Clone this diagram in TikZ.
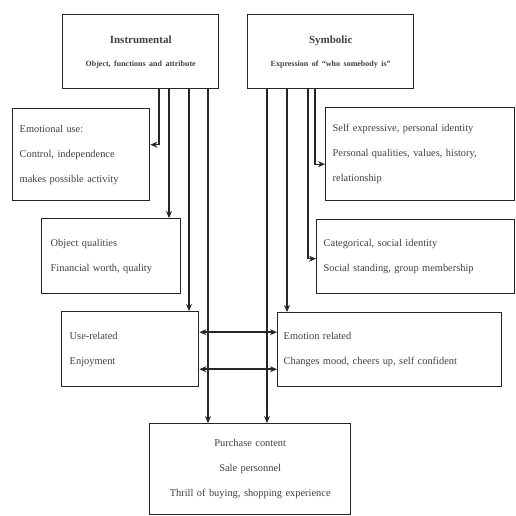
\documentclass[tikz,border=0pt]{standalone}
\usepackage{fontspec}
\setmainfont{Liberation Serif}
\usetikzlibrary{arrows.meta,calc}
\begin{document}
\begin{tikzpicture}[x=1pt,y=-1pt,
  box/.style={draw=black!85,line width=1.4pt,anchor=north west,inner xsep=7pt,inner ysep=0pt,
    font=\fontsize{10.4}{25}\selectfont,align=left,text=black!75},
  cbox/.style={box,align=center},
  conn/.style={draw=black!85,line width=1.1pt,-{Stealth[length=7pt,width=6pt]}},
  dconn/.style={draw=black!85,line width=1.7pt,{Stealth[length=7pt,width=6pt]}-{Stealth[length=7pt,width=6pt]}}]
\useasboundingbox[fill=white] (0,0) rectangle (516,515);
% title boxes
\node[cbox,minimum width=156pt,minimum height=74pt,text width=142pt] (instr) at (62,14)
  {\fontsize{11}{22}\selectfont\textbf{Instrumental}\\[-2pt]\fontsize{8}{12}\selectfont\textbf{Object, functions and attribute}};
\node[cbox,minimum width=166pt,minimum height=74pt,text width=152pt] (symb) at (247,14)
  {\fontsize{11}{22}\selectfont\textbf{Symbolic}\\[-2pt]\fontsize{8}{12}\selectfont\textbf{Expression of “who somebody is”}};
% left column
\node[box,minimum width=137pt,minimum height=92pt,text width=123pt] (emo) at (12,108)
  {Emotional use:\\Control, independence\\makes possible activity};
\node[box,minimum width=139pt,minimum height=75pt,text width=121pt,inner xsep=9pt] (obj) at (41,218)
  {Object qualities\\Financial worth, quality};
\node[box,minimum width=137pt,minimum height=75pt,text width=121pt,inner xsep=8pt] (use) at (61,311)
  {Use-related\\Enjoyment};
% right column
\node[box,minimum width=189pt,minimum height=93pt,text width=175pt] (self) at (325,107)
  {Self expressive, personal identity\\Personal qualities, values, history,\\relationship};
\node[box,minimum width=198pt,minimum height=74pt,text width=184pt] (cat) at (316,219)
  {Categorical, social identity\\Social standing, group membership};
\node[box,minimum width=224pt,minimum height=74pt,text width=212pt,inner xsep=6pt] (emot) at (277,312)
  {Emotion related\\Changes mood, cheers up, self confident};
% bottom
\node[cbox,minimum width=201pt,minimum height=91pt,text width=187pt] (purch) at (149,423)
  {Purchase content\\Sale personnel\\Thrill of buying, shopping experience};
% connectors from Instrumental
\draw[conn] ([xshift=97pt]instr.south west) |- ([yshift=10pt]emo.east);
\draw[conn] ([xshift=107pt]instr.south west) -- ([xshift=107pt]instr.south west |- obj.north);
\draw[conn] ([xshift=127pt]instr.south west) -- ([xshift=127pt]instr.south west |- use.north);
\draw[conn] ([xshift=146pt]instr.south west) -- ([xshift=146pt]instr.south west |- purch.north);
% connectors from Symbolic
\draw[conn] ([xshift=20pt]symb.south west) -- ([xshift=20pt]symb.south west |- purch.north);
\draw[conn] ([xshift=40pt]symb.south west) -- ([xshift=40pt]symb.south west |- emot.north);
\draw[conn] ([xshift=61pt]symb.south west) |- ([yshift=-2pt]cat.west);
\draw[conn] ([xshift=68pt]symb.south west) |- ([yshift=-10pt]self.west);
% double arrows
\draw[dconn] ([yshift=17pt]use.east) -- ([yshift=17pt]use.east -| emot.west);
\draw[dconn] ([yshift=-20pt]use.east) -- ([yshift=-20pt]use.east -| emot.west);
\end{tikzpicture}
\end{document}
